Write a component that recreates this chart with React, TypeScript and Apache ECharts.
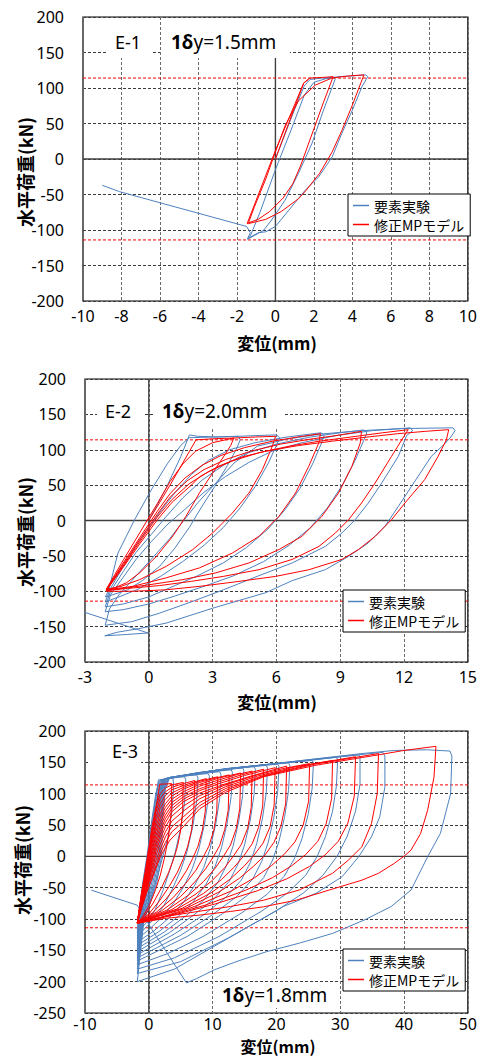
import React, { useEffect, useRef } from "react";
import * as echarts from "echarts";

// ---------------- data ----------------
const SERIES_NAMES = ["要素実験", "修正MPモデル"];
const PANEL_LABELS = ["E-1", "E-2", "E-3"];
const YIELD_DISP_TEXT = ["y=1.5mm", "y=2.0mm", "y=1.8mm"];
const X_AXIS_RANGES = [[-10, 10, 2], [-3, 15, 3], [-10, 50, 10]];
const Y_AXIS_RANGES = [[-200, 200, 50], [-200, 200, 50], [-250, 200, 50]];
const YIELD_LOADS = [114, -114];
const X_TITLE = "変位(mm)";
const Y_TITLE = "水平荷重(kN)";

// E-1 experiment (blue)
const E1_BLUE = [
  [[0, 0], [0.5, 35], [1.0, 70], [1.5, 103], [1.8, 112], [2.4, 114], [3.05, 115]],
  [[3.1, 112], [2.5, 69], [1.9, 22], [1.2, -20], [0.5, -58], [-0.2, -86], [-0.6, -100], [-1.1, -108], [-1.45, -113]],
  [[-1.3, -108], [-0.8, -75], [0, -15], [0.8, 40], [1.5, 90], [2.0, 108], [2.6, 113], [3.3, 116], [4.0, 117], [4.7, 118.5]],
  [[4.8, 116], [4.5, 102], [4.0, 69], [3.45, 36], [2.95, 3], [2.25, -25], [1.55, -44], [0.7, -72], [0, -95], [-0.5, -102.5], [-0.9, -104], [-1.45, -112]],
  [[-1.3, -104], [-1.5, -95], [-8.1, -46], [-8.8, -39], [-9, -37]],
];
// E-1 model (red)
const E1_RED = [
  [[0, 0], [1.47, 107], [1.8, 114], [2.5, 115], [3.0, 116]],
  [[2.85, 105], [2.5, 80], [2.1, 50], [1.7, 20], [1.3, -10], [0.9, -35], [0.4, -55], [-0.3, -74], [-0.9, -85], [-1.4, -90]],
  [[-1.1, -68], [-0.5, -28], [0.0, 10], [0.52, 48], [1.2, 82], [2.07, 104], [2.93, 114], [3.8, 117], [4.6, 118.5]],
  [[4.45, 108], [4.0, 76], [3.45, 40], [2.95, 10], [2.3, -20], [1.6, -44], [1.2, -56], [0.3, -74], [-0.5, -85], [-1.4, -91]],
  [[-1.47, -91], [0, 12], [1.47, 107], [1.7, 112]],
];

// E-2 experiment (blue)
const E2_BLUE = [
  [[0, 0], [0.8, 45], [1.5, 90], [1.91, 121], [2.3, 119], [3.2, 118], [4.2, 119]],
  [[4.3, 114], [4.1, 100], [3.7, 78], [3.1, 48], [2.5, 20], [1.9, -10], [1.2, -40], [0.5, -65], [-0.3, -85], [-1.0, -98], [-1.7, -105], [-2.05, -108]],
  [[-1.9, -100], [-1.45, -46], [-0.67, 1], [0.11, 43], [0.89, 81], [1.5, 106], [1.9, 117], [3.0, 118], [4.2, 119], [5.0, 120], [6.0, 121]],
  [[6.15, 117], [6.0, 106], [5.6, 80], [5.0, 48], [4.3, 18], [3.5, -10], [2.6, -35], [1.6, -58], [0.6, -78], [-0.5, -97], [-1.4, -108], [-2.05, -115]],
  [[-1.8, -96], [-1.2, -65], [-0.6, -35], [0.0, -10], [0.6, 15], [1.3, 42], [2.0, 65], [2.8, 85], [3.8, 100], [5.0, 110], [6.5, 118], [8.1, 124]],
  [[8.25, 120], [8.1, 108], [7.7, 80], [7.1, 45], [6.4, 15], [5.6, -12], [4.6, -38], [3.5, -60], [2.3, -78], [1.0, -95], [0.0, -108], [-1.2, -118], [-2.05, -122]],
  [[-1.8, -100], [-1.2, -72], [-0.6, -45], [0.11, -20], [0.8, 5], [1.6, 32], [2.5, 57], [3.5, 78], [4.6, 95], [6.0, 108], [7.6, 118], [9.0, 124], [10.1, 128]],
  [[10.25, 124], [10.1, 113], [9.7, 85], [9.1, 50], [8.4, 18], [7.6, -10], [6.6, -35], [5.4, -58], [4.0, -78], [2.6, -93], [1.2, -107], [0.0, -118], [-1.2, -126], [-2.05, -129]],
  [[-1.8, -105], [-1.2, -80], [-0.6, -55], [0.11, -30], [0.9, -5], [1.67, 15], [2.6, 40], [3.6, 62], [4.7, 82], [5.8, 98], [7.2, 110], [8.8, 120], [10.5, 127], [12.3, 131]],
  [[12.4, 127], [12.12, 120], [11.73, 90.6], [10.95, 53], [10.32, 24.7], [9.7, 1], [9.08, -17.7], [8.3, -36.6], [6.74, -60], [5.18, -78], [3.5, -98], [2.0, -115], [0.5, -131], [-0.8, -143], [-2.05, -148]],
  [[-1.85, -125], [-1.4, -105], [-0.8, -85], [0.11, -55], [1.0, -25], [1.67, 1], [2.3, 25], [3.0, 48], [4.0, 81], [5.1, 105], [6.5, 115], [8.0, 122], [10.0, 127], [12.0, 130], [14.3, 131]],
  [[14.4, 127], [14.2, 118], [13.9, 108], [13.28, 90.6], [12.35, 48.2], [11.73, 19.9], [11.1, -8.3], [10.32, -31.8], [9.39, -50.7], [8.3, -69.5], [6.74, -85], [5.5, -102], [3.0, -124], [0.82, -145], [-0.5, -153], [-1.5, -158], [-2.07, -163], [-1.0, -161], [-0.04, -159], [-3.2, -128]],
];
// E-2 model (red)
const E2_RED = [
  [[0, 0], [1.0, 50], [2.22, 114], [3.0, 115.5], [4.0, 116.6]],
  [[3.85, 106], [3.62, 95], [3.0, 67], [2.38, 39], [1.75, 6], [1.13, -22], [0.35, -51], [-0.43, -74], [-1.05, -88], [-1.6, -95], [-2.0, -97]],
  [[-1.2, -56], [-0.4, -16], [0.4, 24], [1.0, 55], [1.6, 80], [2.2, 98], [3.0, 110], [4.0, 116.6], [5.0, 118], [5.96, 119]],
  [[5.8, 104.5], [5.34, 71.8], [4.71, 38.9], [3.93, 10.6], [3.0, -17.7], [2.07, -41], [0.82, -64.8], [-0.43, -83.6], [-1.3, -93], [-2.0, -98]],
  [[-1.2, -60], [-0.4, -23], [0.4, 13], [1.0, 38], [1.7, 60], [2.5, 78], [3.4, 92], [4.5, 103], [5.8, 112], [7.0, 118], [8.07, 122.7]],
  [[7.99, 109.5], [7.52, 76.6], [6.9, 38.9], [6.12, 5.9], [5.18, -22.4], [3.93, -46], [2.38, -67], [0.82, -81], [-0.74, -93], [-2.0, -98]],
  [[-1.2, -62], [-0.4, -26], [0.4, 9], [1.0, 33], [1.8, 56], [2.6, 72], [3.6, 86], [4.8, 98], [6.2, 108], [7.6, 115], [8.8, 120], [10.0, 126]],
  [[9.94, 109.5], [9.55, 76.6], [8.92, 38.9], [8.14, 5.9], [7.2, -22.4], [6.12, -41], [4.71, -60], [3.15, -74], [1.6, -83.6], [0.05, -90.7], [-1.0, -95], [-2.0, -99]],
  [[-1.2, -64], [-0.4, -29], [0.4, 5], [1.1, 30], [1.9, 52], [2.8, 69], [3.9, 84], [5.2, 96], [6.6, 105], [8.0, 112], [9.5, 118], [11.0, 124], [12.2, 128.4]],
  [[12.1, 124], [11.41, 90.6], [10.64, 53], [10.0, 24.7], [9.39, 1], [8.77, -17.7], [8.0, -36.6], [6.74, -55], [5.18, -69.5], [3.5, -79], [2.0, -86], [0.5, -92], [-1.0, -96], [-2.0, -99]],
  [[-1.2, -66], [-0.4, -32], [0.4, 1], [1.1, 26], [2.0, 50], [2.4, 62], [3.3, 77], [4.4, 90], [5.5, 98], [7.05, 106], [8.6, 112], [10.17, 117.6], [11.7, 122.7], [13.0, 126], [14.1, 128.4]],
  [[13.99, 114], [13.6, 90.6], [12.97, 57.7], [12.04, 24.7], [11.41, 1], [10.64, -22.4], [9.86, -41], [9.08, -55], [7.52, -69.6], [5.96, -79], [4.0, -87], [2.4, -93], [0.8, -98], [-0.74, -100], [-2.0, -100]],
];

// E-3 experiment (blue)
const E3_BLUE = [
  [[0, 0], [0.6, 50], [1.2, 100], [1.5, 122], [3, 124], [3.8, 125]],
  [[3.9, 110], [3.6, 70], [3.0, 30], [2.2, 0], [1.4, -30], [0.4, -65], [-0.6, -95], [-1.3, -110], [-1.8, -117]],
  [[-1.5, -90], [-1.0, -45], [-0.3, 0], [0.5, 60], [1.1, 100], [1.6, 120], [3, 124], [4.5, 126], [5.6, 127]],
  [[5.8, 122], [5.6, 85], [5.0, 45], [4.1, 5], [3.2, -25], [2.2, -55], [1.0, -85], [-0.3, -105], [-1.8, -122]],
  [[-1.5, -92], [-0.9, -45], [-0.2, 0], [0.6, 60], [1.2, 102], [1.8, 121], [3.5, 125], [5.5, 128], [7.5, 130]],
  [[7.7, 125], [7.5, 88], [6.9, 48], [6.0, 8], [5.0, -22], [3.8, -50], [2.4, -78], [0.8, -100], [-0.6, -115], [-1.8, -127]],
  [[-1.4, -92], [-0.7, -45], [0.0, 0], [0.8, 60], [1.4, 102], [2.0, 122], [4, 126], [7, 130], [9.3, 132]],
  [[9.5, 128], [9.3, 90], [8.7, 50], [7.8, 10], [6.8, -20], [5.5, -48], [3.8, -76], [1.8, -100], [0, -117], [-1.8, -132]],
  [[-1.3, -92], [-0.6, -45], [0.1, 0], [0.9, 60], [1.5, 103], [2.1, 122], [4.5, 127], [8, 132], [11.1, 135]],
  [[11.3, 131], [11.1, 92], [10.5, 52], [9.6, 12], [8.6, -18], [7.2, -46], [5.4, -74], [3.2, -98], [0.8, -119], [-1.8, -137]],
  [[-1.3, -94], [-0.5, -45], [0.2, 0], [1.0, 60], [1.6, 104], [2.2, 122], [5, 128], [9, 134], [12.9, 138]],
  [[13.1, 134], [12.9, 95], [12.3, 54], [11.4, 14], [10.4, -16], [9.0, -44], [7.0, -72], [4.6, -96], [1.6, -120], [-1.8, -142]],
  [[-1.2, -95], [-0.4, -45], [0.35, 0], [1.1, 60], [1.7, 104], [2.3, 123], [5.5, 129], [10, 136], [14.7, 141]],
  [[14.9, 137], [14.7, 97], [14.1, 56], [13.2, 16], [12.2, -14], [10.8, -42], [8.6, -70], [5.8, -95], [2.4, -121], [-1.8, -147]],
  [[-1.2, -96], [-0.3, -45], [0.5, 0], [1.2, 60], [1.8, 105], [2.4, 123], [6, 130], [11, 138], [16.5, 143]],
  [[16.7, 139], [16.5, 99], [15.9, 58], [15.0, 18], [14.0, -12], [12.6, -40], [10.2, -68], [7.0, -94], [3.2, -122], [-1.8, -152]],
  [[-1.1, -97], [-0.2, -45], [0.6, 0], [1.3, 60], [1.9, 105], [2.5, 124], [6.5, 131], [12, 140], [18.4, 145]],
  [[18.6, 141], [18.4, 101], [17.8, 60], [16.9, 20], [15.9, -10], [14.5, -38], [12, -66], [8.5, -94], [4, -124], [-1.8, -157]],
  [[-1.1, -98], [0.0, -45], [0.8, 0], [1.5, 60], [2.0, 106], [2.6, 124], [7, 132], [13, 141], [20.2, 147]],
  [[20.4, 143], [20.2, 103], [19.6, 62], [18.7, 22], [17.7, -8], [16.3, -36], [13.8, -64], [10, -93], [5, -126], [-1.8, -162]],
  [[-1.0, -99], [0.2, -45], [1.0, 0], [1.6, 60], [2.1, 106], [2.7, 124], [7.5, 133], [14, 142], [21.9, 149]],
  [[22.1, 145], [21.9, 105], [21.3, 64], [20.4, 24], [19.4, -6], [18, -34], [15.5, -62], [11.5, -92], [6, -128], [-1.8, -167]],
  [[-1.0, -100], [0.4, -45], [1.2, 0], [1.8, 60], [2.2, 107], [2.8, 125], [8, 134], [15, 143], [20, 148], [25.6, 153]],
  [[25.8, 149], [25.6, 109], [25, 68], [24.0, 28], [22.8, -4], [21.2, -32], [18.6, -60], [14.6, -90], [8.5, -128], [3, -155], [-1.8, -173]],
  [[-0.9, -101], [0.6, -45], [1.4, 0], [1.9, 60], [2.3, 107], [3.0, 125], [9, 135], [16, 144], [22, 150], [29.4, 158]],
  [[29.6, 154], [29.4, 112], [28.8, 72], [27.7, 32], [26.4, 0], [24.6, -30], [21.8, -58], [17.6, -88], [11, -128], [4, -162], [-1.8, -180]],
  [[-0.9, -102], [0.8, -45], [1.6, 0], [2.0, 60], [2.4, 108], [3.1, 125], [10, 136], [17, 145], [24, 152], [32.9, 162]],
  [[33.1, 158], [33.1, 115], [32.4, 72], [31.1, 32], [29.5, 0], [27.3, -30], [24.3, -58], [19.8, -88], [12.5, -130], [5, -168], [-1.8, -187]],
  [[-0.8, -103], [1.0, -45], [1.8, 0], [2.1, 60], [2.5, 108], [3.2, 126], [10, 136], [18, 146], [26, 155], [36.7, 166]],
  [[37.0, 160], [37.0, 110.8], [36.2, 63], [34.9, 31.2], [32.9, -0.6], [30.3, -32.5], [26.2, -59], [21.1, -80], [16, -110], [10, -145], [4, -180], [-1.8, -200]],
  [[-0.8, -105], [1.2, -45], [2.0, 0], [2.2, 60], [2.6, 108], [3.3, 126], [10, 136], [18, 146], [28.2, 158], [33.4, 164], [38.5, 169], [43.7, 170], [47.2, 168]],
  [[47.5, 160], [47.3, 100], [45.7, 36.6], [43.7, -0.6], [41.1, -53.7], [38, -80], [33.9, -101], [28.8, -123], [23.6, -138.5], [18.5, -152], [14, -167], [10.3, -181], [7.5, -195], [5.9, -202]],
  [[0.5, -117], [-1.8, -78], [-9, -54]],
];
// E-3 model (red)
const E3_RED = [
  [[0, 0], [1.7, 115], [3.6, 116]],
  [[3.5, 70], [3.2, 40], [2.8, 15], [2.4, -5], [1.8, -30], [1.0, -55], [0.0, -80], [-1.0, -97], [-1.8, -106]],
  [[-1.2, -62], [-0.53, -22], [0.0, 14], [0.49, 47], [1.1, 78], [1.78, 100], [2.6, 109], [3.6, 114], [5.4, 118]],
  [[5.3, 72], [5.0, 42], [4.5, 16], [3.9, -4], [3.1, -26], [2.0, -50], [0.6, -76], [-0.6, -94], [-1.8, -106]],
  [[-1.2, -64], [-0.53, -26], [0.0, 8], [0.49, 40], [1.1, 70], [1.78, 92], [2.6, 103], [3.6, 110], [5.4, 116], [7.2, 121]],
  [[7.05, 72], [6.7, 42], [6.1, 16], [5.4, -4], [4.5, -25], [3.2, -48], [1.6, -72], [0.0, -92], [-1.8, -106]],
  [[-1.2, -65], [-0.53, -30], [0.0, 2], [0.49, 33], [1.1, 62], [1.78, 84], [2.6, 97], [3.6, 106], [5.4, 113], [7.2, 119], [9.0, 124]],
  [[8.85, 72], [8.4, 42], [7.7, 16], [6.9, -3], [5.9, -23], [4.5, -45], [2.7, -68], [0.6, -90], [-1.8, -106]],
  [[-1.2, -66], [-0.53, -33], [0.0, -4], [0.49, 26], [1.1, 54], [1.78, 76], [2.6, 91], [3.6, 101], [5.4, 110], [8.0, 120], [10.8, 127]],
  [[10.65, 72], [10.2, 42], [9.4, 16], [8.5, -2], [7.4, -22], [5.8, -43], [3.8, -66], [1.2, -89], [-1.8, -106]],
  [[-1.2, -68], [-0.53, -36], [0.0, -9], [0.49, 20], [1.1, 47], [1.78, 68], [2.6, 84], [3.6, 96], [5.4, 107], [8.0, 118], [10.5, 125], [12.6, 130]],
  [[12.45, 74], [11.9, 43], [11.1, 17], [10.1, -1], [8.9, -20], [7.2, -41], [5.0, -64], [2.0, -87], [-1.8, -106]],
  [[-1.2, -69], [-0.53, -39], [0.0, -14], [0.49, 14], [1.1, 40], [1.78, 61], [2.6, 78], [3.6, 91], [5.4, 103], [8.0, 115], [11, 125], [14.4, 133]],
  [[14.25, 76], [13.7, 44], [12.8, 18], [11.7, 0], [10.4, -19], [8.6, -40], [6.2, -62], [2.8, -86], [-1.8, -106]],
  [[-1.2, -70], [-0.53, -42], [0.0, -19], [0.49, 8], [1.1, 33], [1.78, 54], [2.6, 72], [3.6, 86], [5.4, 99], [8.0, 112], [11, 122], [14, 131], [16.2, 136]],
  [[16.05, 78], [15.5, 45], [14.5, 19], [13.3, 1], [11.9, -18], [10, -38], [7.4, -60], [3.6, -85], [-1.8, -106]],
  [[-1.15, -72], [-0.53, -45], [0.0, -24], [0.49, 2], [1.1, 26], [1.78, 47], [2.6, 66], [3.6, 81], [5.4, 95], [8.0, 108], [11, 119], [14.5, 130], [18, 139]],
  [[17.85, 80], [17.2, 46], [16.2, 20], [14.9, 1], [13.4, -17], [11.4, -37], [8.6, -59], [4.4, -84], [-1.8, -106]],
  [[-1.15, -73], [-0.53, -48], [0.0, -28], [0.49, -4], [1.1, 20], [1.78, 40], [2.6, 60], [3.6, 76], [5.4, 91], [8.0, 105], [11, 116], [15, 129], [19.8, 141.5]],
  [[19.65, 82], [19.0, 47], [17.9, 21], [16.5, 2], [14.9, -16], [12.8, -36], [9.8, -58], [5.2, -83], [-1.8, -106]],
  [[-1.1, -74], [-0.5, -51], [0.0, -32], [0.49, -10], [1.1, 14], [1.78, 34], [2.6, 54], [3.6, 71], [5.4, 87], [8.0, 101], [11.5, 114], [16, 128], [21.6, 144]],
  [[21.45, 84], [20.7, 48], [19.6, 22], [18.2, 2], [16.4, -16], [14.2, -35], [11, -57], [6, -82], [-1.8, -106]],
  [[-1.1, -76], [-0.5, -54], [0.0, -35], [0.49, -15], [1.1, 8], [1.78, 27], [2.6, 47], [3.6, 64], [5.4, 80], [8.0, 97], [12, 114], [17, 130], [21, 140], [25.2, 148]],
  [[25.05, 88], [24.2, 50], [22.9, 23], [21.2, 3], [19.2, -15], [16.6, -34], [13, -55], [7.2, -80], [2.0, -97], [-1.8, -106]],
  [[-1.1, -77], [-0.5, -57], [0.0, -38], [0.49, -21], [1.1, 1], [1.78, 19], [2.6, 39], [3.6, 56], [5.4, 72], [8.0, 92], [12, 111], [17, 128], [23, 143], [28.8, 153]],
  [[28.65, 92], [27.8, 52], [26.5, 24], [24.6, 3], [22.4, -15], [19.4, -34], [15.2, -54], [8.8, -78], [2.6, -96], [-1.8, -106]],
  [[-1.1, -78], [-0.5, -59], [0.0, -40], [0.49, -27], [1.1, -7], [1.78, 11], [2.6, 31], [3.6, 47], [5.4, 63], [8.0, 86], [12, 108], [18, 129], [25, 146], [32.4, 159]],
  [[32.2, 96], [31.2, 53], [29.7, 24], [27.6, 2], [25.2, -16], [21.6, -36], [17, -55], [10.4, -76], [3.4, -95], [-1.8, -106]],
  [[-1.05, -79], [-0.5, -61], [0.0, -42], [0.49, -33], [1.1, -15], [1.78, 4], [2.6, 22], [3.6, 39], [5.4, 55], [8.0, 81], [12, 105], [18, 128], [26, 147], [36, 164]],
  [[35.8, 100], [34.9, 52.5], [33.4, 15.3], [31.3, -5.9], [28.8, -27], [23.6, -53.6], [18, -70], [12.8, -80], [7.7, -88], [2.5, -96], [-1.8, -107]],
  [[-1.05, -80], [-0.4, -60], [0.24, -43], [1.0, -22], [1.78, -1], [2.6, 14], [3.33, 26], [5.38, 47], [8, 76], [12, 102], [18, 127], [26, 145], [30, 152], [36, 162], [40, 169], [45, 175.5]],
  [[44.7, 126.7], [43.7, 73.6], [42.6, 36.5], [41.1, 10], [40.1, 1], [38.5, -11], [36, -27], [33.4, -38], [28.2, -54], [23.1, -70], [18, -80.5], [12.8, -88], [7.7, -94], [2.5, -99], [-1.8, -107]],
];

const PANEL_CURVES = [
  [E1_BLUE, E1_RED],
  [E2_BLUE, E2_RED],
  [E3_BLUE, E3_RED],
];

// ---------------- layout / style ----------------
const BLUE = "#4f81bd";
const RED = "#ff0000";
const CJK = "'Noto Sans CJK JP', 'Noto Sans', sans-serif";
const NUM = "'Noto Sans', 'DejaVu Sans', sans-serif";

const GRIDS = [
  { left: 83, top: 17, width: 387, height: 284 },
  { left: 85, top: 379, width: 385, height: 283 },
  { left: 85, top: 731, width: 389, height: 282 },
];
const X_LABEL_MARGIN = [7, 7, 3];
const X_TITLE_SIZE = [17, 17, 16];
const LEGEND_POS = [
  { left: 348, top: 194 },
  { left: 343, top: 590 },
  { left: 343, top: 949 },
];
const TAG_LAYOUT = [
  { e: [115, 42], eBox: [107, 18, 46, 40], d: [171, 42], dBox: [162, 18, 128, 40] },
  { e: [105, 411], eBox: [97, 380, 46, 46], d: [162, 411], dBox: [153, 380, 130, 47] },
  { e: [112, 751], eBox: [88, 733, 53, 33], d: [222, 995], dBox: [213, 982, 117, 26] },
];
const Y_TITLE_POS = [[25, 172], [25, 532], [22, 860]];
const X_TITLE_POS = [[277, 342], [277, 701], [278, 1046]];

const flat = (branches: number[][][]) =>
  branches.reduce((acc: number[][], b) => acc.concat(b), []);

function buildOption() {
  const grid: any[] = [];
  const xAxis: any[] = [];
  const yAxis: any[] = [];
  const series: any[] = [];
  const legend: any[] = [];
  const graphic: any[] = [];

  PANEL_CURVES.forEach((curves, i) => {
    const [xmin, xmax, xint] = X_AXIS_RANGES[i];
    const [ymin, ymax, yint] = Y_AXIS_RANGES[i];
    grid.push({ ...GRIDS[i], show: true, borderColor: "#000", borderWidth: 1.2, containLabel: false });
    xAxis.push({
      type: "value", gridIndex: i, min: xmin, max: xmax, interval: xint,
      axisLine: { show: false }, axisTick: { show: false },
      splitLine: { show: true, lineStyle: { color: "#6a6a6a", type: [3, 2], width: 1 } },
      axisLabel: { fontSize: 16, lineHeight: 16, color: "#000", fontFamily: NUM, margin: X_LABEL_MARGIN[i] },
    });
    yAxis.push({
      type: "value", gridIndex: i, min: ymin, max: ymax, interval: yint,
      axisLine: { show: false }, axisTick: { show: false },
      splitLine: { show: true, lineStyle: { color: "#3a3a3a", type: [3, 2], width: 1 } },
      axisLabel: { fontSize: 16, color: "#000", fontFamily: NUM, margin: 19 },
    });
    const common = { xAxisIndex: i, yAxisIndex: i, showSymbol: false, symbol: "none", silent: true, animation: false };
    series.push({ ...common, type: "line", name: `zeroX${i}`, data: [[0, ymin], [0, ymax]], lineStyle: { color: "#404040", width: 1.4 }, z: 1 });
    series.push({ ...common, type: "line", name: `zeroY${i}`, data: [[xmin, 0], [xmax, 0]], lineStyle: { color: "#404040", width: 1.4 }, z: 1 });
    YIELD_LOADS.forEach((v, k) => {
      series.push({ ...common, type: "line", name: `yield${i}_${k}`, data: [[xmin, v], [xmax, v]], lineStyle: { color: RED, width: 1, type: [3, 2] }, z: 2 });
    });
    series.push({ ...common, type: "line", name: SERIES_NAMES[0], data: flat(curves[0]), lineStyle: { color: BLUE, width: 1 }, itemStyle: { color: BLUE }, z: 3 });
    series.push({ ...common, type: "line", name: SERIES_NAMES[1], data: flat(curves[1]), lineStyle: { color: RED, width: 1 }, itemStyle: { color: RED }, z: 4 });

    legend.push({
      ...LEGEND_POS[i], orient: "vertical", selectedMode: false,
      data: SERIES_NAMES.map((n) => ({ name: n, icon: "rect" })),
      backgroundColor: "#fff", borderColor: "#000", borderWidth: 1,
      padding: [3, 6, 3, 5], itemGap: 2, itemWidth: 16, itemHeight: 1.5, itemTextGap: 3,
      textStyle: { fontSize: 14, fontFamily: CJK, color: "#000", lineHeight: 17 },
      z: 10,
    });

    const t = TAG_LAYOUT[i];
    graphic.push({ type: "rect", shape: { x: t.eBox[0], y: t.eBox[1], width: t.eBox[2], height: t.eBox[3] }, style: { fill: "#fff" }, z: 50, silent: true });
    graphic.push({ type: "rect", shape: { x: t.dBox[0], y: t.dBox[1], width: t.dBox[2], height: t.dBox[3] }, style: { fill: "#fff" }, z: 50, silent: true });
    graphic.push({ type: "text", x: t.e[0], y: t.e[1], z: 51, silent: true, style: { text: PANEL_LABELS[i], fontSize: 18, fontFamily: NUM, fill: "#000", align: "left", verticalAlign: "middle" } });
    graphic.push({
      type: "text", x: t.d[0], y: t.d[1], z: 51, silent: true,
      style: {
        text: "{b|1δ}" + YIELD_DISP_TEXT[i], fontSize: 19, fontFamily: NUM, fill: "#000", align: "left", verticalAlign: "middle",
        rich: { b: { fontSize: 19, fontFamily: NUM, fontWeight: "bold", fill: "#000" } },
      },
    });
    graphic.push({
      type: "text", x: Y_TITLE_POS[i][0], y: Y_TITLE_POS[i][1], rotation: Math.PI / 2, silent: true,
      style: { text: Y_TITLE, fontSize: 18, fontWeight: "bold", fontFamily: CJK, fill: "#000", align: "center", verticalAlign: "middle" },
    });
    graphic.push({
      type: "text", x: X_TITLE_POS[i][0], y: X_TITLE_POS[i][1], silent: true,
      style: { text: X_TITLE, fontSize: X_TITLE_SIZE[i], lineHeight: X_TITLE_SIZE[i], fontWeight: "bold", fontFamily: CJK, fill: "#000", align: "center", verticalAlign: "middle" },
    });
  });

  return { animation: false, backgroundColor: "#fff", grid, xAxis, yAxis, series, legend, graphic };
}

export default function App() {
  const ref = useRef<HTMLDivElement>(null);
  useEffect(() => {
    if (!ref.current) return;
    const chart = echarts.init(ref.current, null, { renderer: "svg" });
    chart.setOption(buildOption());
    return () => chart.dispose();
  }, []);
  return (
    <div
      ref={ref}
      style={{ position: "absolute", left: 0, top: 0, width: 480, height: 1059 }}
    />
  );
}
